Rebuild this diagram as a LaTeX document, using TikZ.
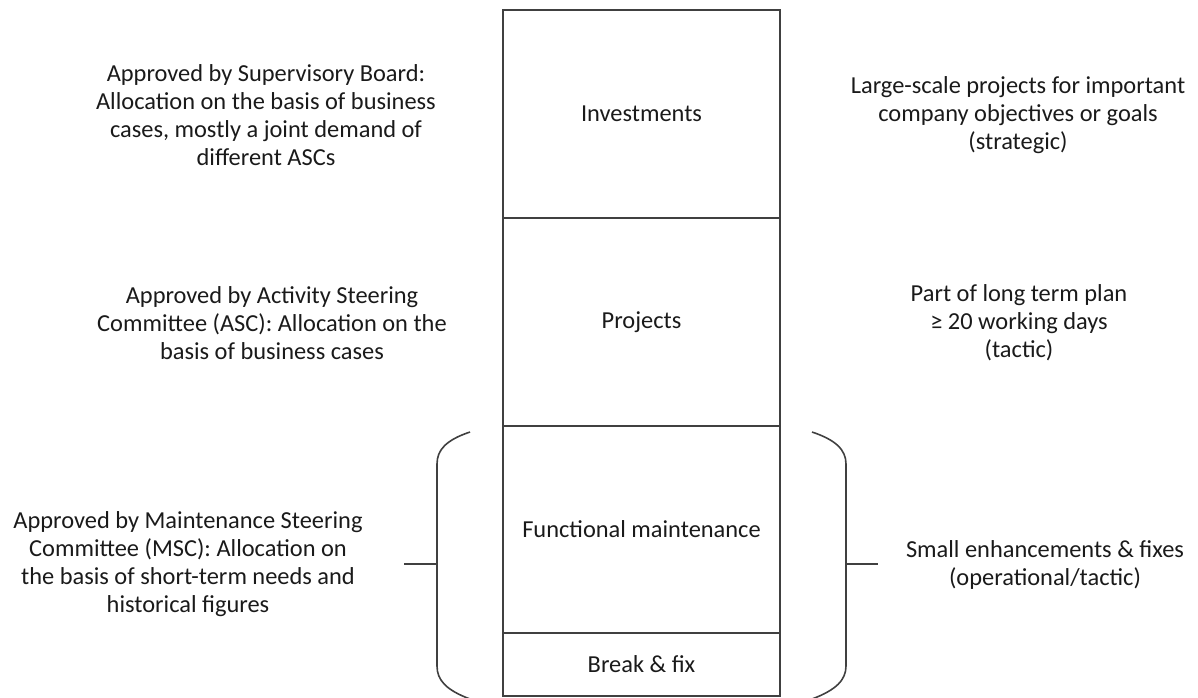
\documentclass[tikz,border=0pt]{standalone}
\usepackage{fontspec}
\setmainfont{Carlito}
\usepackage{tikz}
\usetikzlibrary{positioning}

\definecolor{linegray}{HTML}{404040}
\definecolor{textgray}{HTML}{1A1A1A}

\tikzset{
  layer/.style={draw=linegray, line width=1pt, minimum width=138.5pt, inner sep=0pt, outer sep=0pt, text=textgray},
  note/.style={align=center, text=textgray, inner sep=0pt},
  brace/.style={draw=linegray, line width=0.8pt}
}

\begin{document}
\begin{tikzpicture}[x=0.5pt, y=-0.5pt, font=\fontsize{12.2}{14}\selectfont]
\useasboundingbox (0,0) rectangle (1198,697);
\node [layer, minimum height=104pt, anchor=north] (inv) at (641.5,10) {Investments};
\node [layer, minimum height=104pt, below=0pt of inv] (proj) {Projects};
\node [layer, minimum height=103.5pt, below=0pt of proj] (func) {Functional maintenance};
\node [layer, minimum height=31.5pt, below=0pt of func] (brk) {Break \& fix};

\node [note] (board) at (266,115) {Approved by Supervisory Board:\\Allocation on the basis of business\\cases, mostly a joint demand of\\different ASCs};
\node [note] (asc) at (272,323) {Approved by Activity Steering\\Committee (ASC): Allocation on the\\basis of business cases};
\node [note] (msc) at (188,564) {Approved by Maintenance Steering\\Committee (MSC): Allocation on\\the basis of short-term needs and\\historical figures};

\node [note] (strat) at (1018,115) {Large-scale projects for important\\company objectives or goals\\(strategic)};
\node [note] (tact) at (1019,323) {Part of long term plan\\≥ 20 working days\\(tactic)};
\node [note] (oper) at (1045,565) {Small enhancements \& fixes\\(operational/tactic)};

\coordinate (lmid) at (437,564);
\coordinate (ltick) at (404,564);
\coordinate (rmid) at (846,564);
\coordinate (rtick) at (878,564);
\draw [brace] (470,432) .. controls (446,440) and (437,450) .. (437,464) -- (lmid) -- (437,666)
      .. controls (437,680) and (446,690) .. (470,699);
\draw [brace] (812,432) .. controls (836,440) and (846,450) .. (846,464) -- (rmid) -- (846,666)
      .. controls (846,680) and (836,690) .. (812,699);
\draw [brace] (lmid) -- (ltick) (rmid) -- (rtick);
\end{tikzpicture}
\end{document}
